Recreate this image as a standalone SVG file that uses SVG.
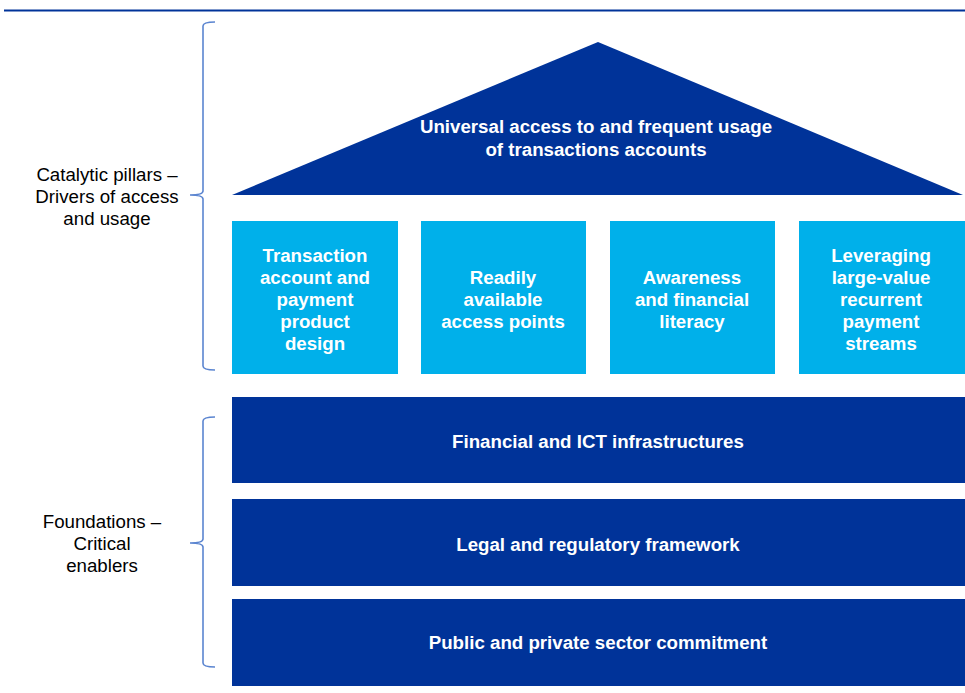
<svg xmlns="http://www.w3.org/2000/svg" width="965" height="693" viewBox="0 0 965 693">
<style>
.dk{fill:#003399}
.lt{fill:#00B0EA}
.wt{fill:#fff;font-family:"Liberation Sans",Arial,sans-serif;font-weight:bold;font-size:18.7px;text-anchor:middle}
.lb{fill:#000;font-family:"Liberation Sans",Arial,sans-serif;font-size:18.7px;text-anchor:middle}
.br{fill:none;stroke:#5B85D0;stroke-width:1.6}
</style>
<rect width="965" height="693" fill="#fff"/>
<line x1="4" y1="10.5" x2="965" y2="10.5" stroke="#003399" stroke-width="2"/>
<g id="brace1"><path class="br" d="M215,22 Q203,22 203,26 L203,191 Q203,195 190,195 Q203,195 203,199 L203,366 Q203,370 215,370"/></g>
<g id="brace2"><path class="br" d="M215,417 Q203,417 203,421 L203,539 Q203,543 190,543 Q203,543 203,547 L203,663 Q203,667 215,667"/></g>
<g id="label1"><text class="lb" x="107" y="181">Catalytic pillars –</text><text class="lb" x="107" y="203">Drivers of access</text><text class="lb" x="107" y="225">and usage</text></g>
<g id="label2"><text class="lb" x="102" y="528">Foundations –</text><text class="lb" x="102" y="550">Critical</text><text class="lb" x="102" y="572">enablers</text></g>
<g id="roof"><polygon class="dk" points="598,42 963,195 232,195"/><text class="wt" x="596" y="133">Universal access to and frequent usage</text><text class="wt" x="596" y="156">of transactions accounts</text></g>
<g id="pillar1"><rect class="lt" x="232" y="221" width="166" height="153"/><text class="wt" x="315" y="262">Transaction</text><text class="wt" x="315" y="284">account and</text><text class="wt" x="315" y="306">payment</text><text class="wt" x="315" y="328">product</text><text class="wt" x="315" y="350">design</text></g>
<g id="pillar2"><rect class="lt" x="421" y="221" width="165" height="153"/><text class="wt" x="503" y="284">Readily</text><text class="wt" x="503" y="306">available</text><text class="wt" x="503" y="328">access points</text></g>
<g id="pillar3"><rect class="lt" x="610" y="221" width="165" height="153"/><text class="wt" x="692" y="284">Awareness</text><text class="wt" x="692" y="306">and financial</text><text class="wt" x="692" y="328">literacy</text></g>
<g id="pillar4"><rect class="lt" x="799" y="221" width="166" height="153"/><text class="wt" x="881" y="262">Leveraging</text><text class="wt" x="881" y="284">large-value</text><text class="wt" x="881" y="306">recurrent</text><text class="wt" x="881" y="328">payment</text><text class="wt" x="881" y="350">streams</text></g>
<g id="found1"><rect class="dk" x="232" y="397" width="733" height="86"/><text class="wt" x="598" y="448">Financial and ICT infrastructures</text></g>
<g id="found2"><rect class="dk" x="232" y="499" width="733" height="87"/><text class="wt" x="598" y="551">Legal and regulatory framework</text></g>
<g id="found3"><rect class="dk" x="232" y="599" width="733" height="87"/><text class="wt" x="598" y="649">Public and private sector commitment</text></g>
<g id="connectors"></g>
</svg>
